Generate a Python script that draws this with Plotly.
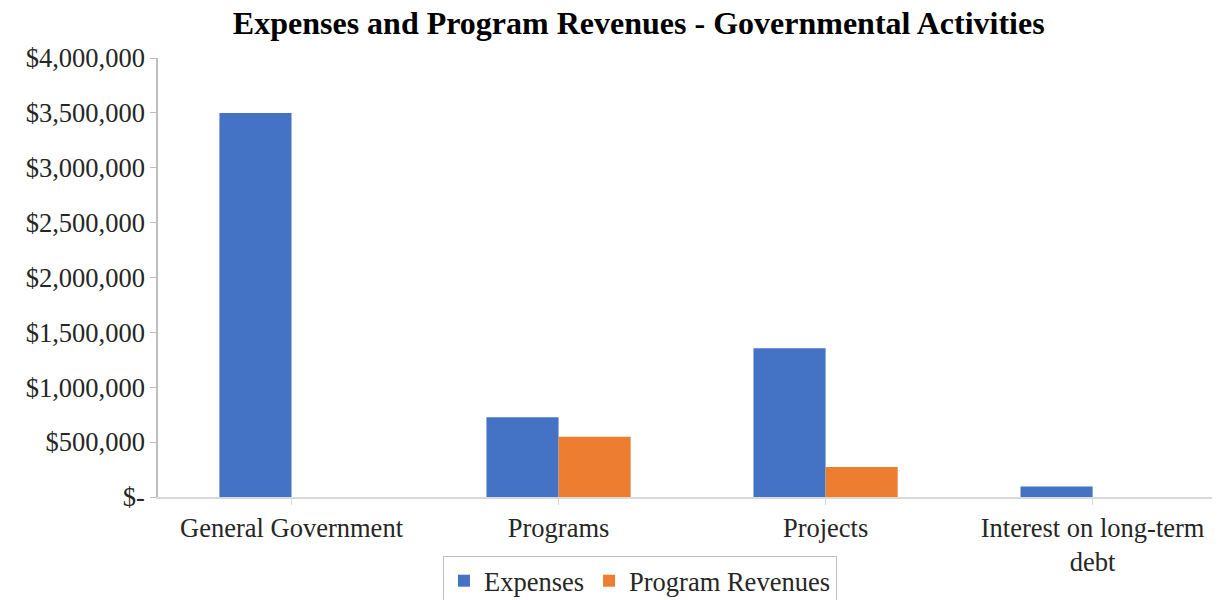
import plotly.graph_objects as go

categories = ["General Government", "Programs", "Projects", "Interest on long-term<br>debt"]
expenses = [3500000, 727000, 1355000, 95000]
program_revenues = [0, 549000, 273000, 0]
y_tickvals = [0, 500000, 1000000, 1500000, 2000000, 2500000, 3000000, 3500000, 4000000]
y_ticktext = ["$-", "$500,000", "$1,000,000", "$1,500,000", "$2,000,000",
              "$2,500,000", "$3,000,000", "$3,500,000", "$4,000,000"]

FONT = "Liberation Serif, Times New Roman, serif"
FS = 26.5

fig = go.Figure()
fig.add_trace(go.Bar(name="Expenses", x=categories, y=expenses,
                     marker=dict(color="#4472C4", line=dict(width=0))))
fig.add_trace(go.Bar(name="Program Revenues", x=categories, y=program_revenues,
                     marker=dict(color="#ED7D31", line=dict(width=0))))

fig.update_layout(
    width=1220, height=600,
    barmode="group", bargap=0.46, bargroupgap=0,
    paper_bgcolor="white", plot_bgcolor="white",
    font=dict(family=FONT, size=FS, color="#262626"),
    title=dict(text="<b>Expenses and Program Revenues - Governmental Activities</b>",
               x=0.517, xanchor="center", xref="container",
               y=0.976, yanchor="middle", yref="container",
               font=dict(family=FONT, size=32, color="black")),
    margin=dict(l=150, r=0, t=50, b=111, autoexpand=False),
    showlegend=True,
    legend=dict(orientation="h", xref="container", yref="container",
                x=0.518, xanchor="center", y=0.0867, yanchor="top",
                bordercolor="#BFBFBF", borderwidth=1,
                font=dict(family=FONT, size=FS, color="#262626"),
                itemwidth=30, traceorder="normal"),
    xaxis=dict(range=[-0.5, 3.507], showgrid=False, showline=True, automargin=False,
               linecolor="#D9D9D9", linewidth=2, ticks="outside", ticklen=6,
               tickcolor="#D9D9D9", tickfont=dict(family=FONT, size=FS, color="#262626"),
               fixedrange=True),
    yaxis=dict(range=[0, 4000000], tickvals=y_tickvals, ticktext=y_ticktext,
               automargin=False,
               showgrid=False, showline=True, linecolor="#BFBFBF", linewidth=1.5,
               ticks="outside", ticklen=6, tickcolor="#BFBFBF",
               tickfont=dict(family=FONT, size=FS, color="#262626"),
               zeroline=False),
)

fig.write_html("out.html")
